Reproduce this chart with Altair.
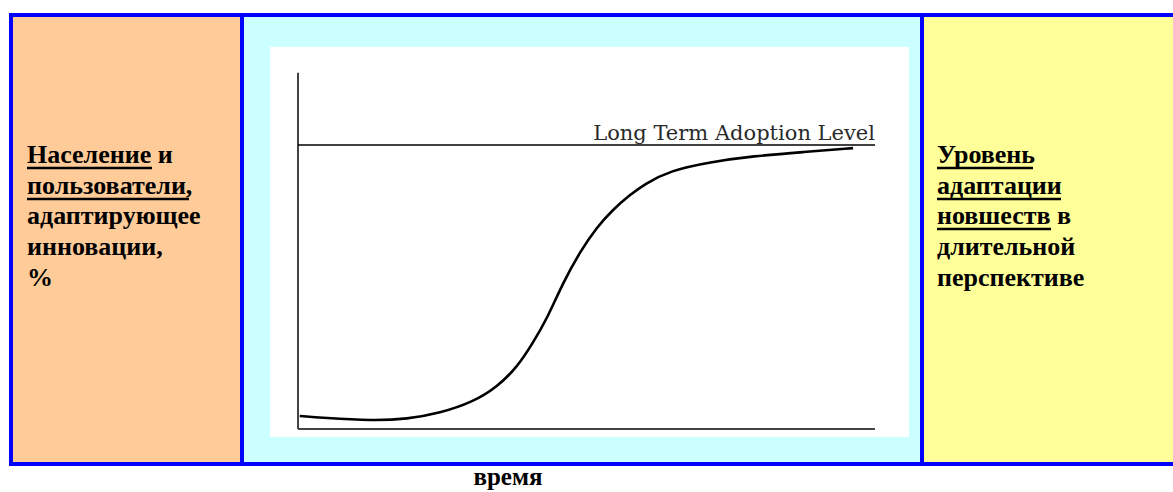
import altair as alt
import pandas as pd

# ---- data ----
time_pts = [0.3, 4.3, 13.0, 18.9, 24.6, 30.3, 34.5, 38.0, 40.7, 43.2, 45.9, 48.9,
            51.8, 54.6, 57.5, 60.1, 64.5, 71.4, 78.9, 87.5, 96.2]
adopt_pct = [4.6, 3.9, 2.9, 3.5, 5.6, 9.5, 14.8, 21.8, 30.3, 39.0, 51.4, 62.5,
             71.1, 77.3, 82.4, 86.3, 91.0, 94.0, 96.1, 97.5, 98.9]
long_term_level = 100
y_axis_top = 125.4
x_axis_end = 100
level_label = "Long Term Adoption Level"
left_lines = ["Население и", "пользователи,", "адаптирующее", "инновации,", "%"]
right_lines = ["Уровень", "адаптации", "новшеств в", "длительной", "перспективе"]
x_title = "время"

W, H = 1173, 492
BLUE = "#0000FF"

xs = alt.Scale(domain=[0, 100], range=[298, 875], nice=False, zero=False)
ys = alt.Scale(domain=[0, 100], range=[429, 145], nice=False, zero=False)

one = alt.Data(values=[{}])


def box(x1, x2, y1, y2, color):
    return alt.Chart(one).mark_rect(color=color).encode(
        x=alt.value(x1), x2=alt.value(x2), y=alt.value(y1), y2=alt.value(y2))


def uline(x1, x2, y):
    return alt.Chart(one).mark_rule(color="black", strokeWidth=2.5).encode(
        x=alt.value(x1), x2=alt.value(x2), y=alt.value(y))


bg = [
    box(9, W, 13, 466, BLUE),
    box(13, 240, 17, 462, "#FFCC99"),
    box(244, 920, 17, 462, "#CCFFFF"),
    box(924, W, 17, 462, "#FFFF99"),
    box(270, 909, 47, 437, "#FFFFFF"),
]

curve_df = pd.DataFrame({"t": time_pts, "p": adopt_pct})
curve = alt.Chart(curve_df).mark_line(color="black", strokeWidth=2.6, interpolate="basis").encode(
    x=alt.X("t:Q", scale=xs, axis=None),
    y=alt.Y("p:Q", scale=ys, axis=None),
)

axes_df = pd.DataFrame({"x": [0, 0], "x2": [0, x_axis_end], "y": [0, 0], "y2": [y_axis_top, 0]})
axes = alt.Chart(axes_df).mark_rule(color="#444444", strokeWidth=2).encode(
    x=alt.X("x:Q", scale=xs, axis=None), x2="x2:Q",
    y=alt.Y("y:Q", scale=ys, axis=None), y2="y2:Q",
)

lvl_df = pd.DataFrame({"x": [0], "x2": [x_axis_end], "y": [long_term_level], "label": [level_label]})
lvl = alt.Chart(lvl_df).mark_rule(color="black", strokeWidth=1.5).encode(
    x=alt.X("x:Q", scale=xs, axis=None), x2="x2:Q",
    y=alt.Y("y:Q", scale=ys, axis=None),
)
lvl_text = alt.Chart(lvl_df).mark_text(
    align="right", baseline="alphabetic", dy=-5, font="DejaVu Serif", fontSize=21, color="#2a2a2a"
).encode(
    x=alt.X("x2:Q", scale=xs, axis=None),
    y=alt.Y("y:Q", scale=ys, axis=None),
    text="label:N",
)

left_text = alt.Chart(one).mark_text(
    align="left", baseline="alphabetic", font="Liberation Serif", fontWeight="bold",
    fontSize=26, lineHeight=30.7, color="black", text=left_lines
).encode(x=alt.value(27), y=alt.value(163))

right_text = alt.Chart(one).mark_text(
    align="left", baseline="alphabetic", font="Liberation Serif", fontWeight="bold",
    fontSize=26, lineHeight=30.7, color="black", text=right_lines
).encode(x=alt.value(937), y=alt.value(163))

bottom_text = alt.Chart(one).mark_text(
    align="center", baseline="alphabetic", font="Liberation Serif", fontWeight="bold",
    fontSize=25, color="black", text=x_title
).encode(x=alt.value(508), y=alt.value(485))

unders = [
    uline(27, 152, 168),
    uline(27, 189, 199),
    uline(937, 1033, 168),
    uline(937, 1061, 199),
    uline(937, 1051, 229),
]

chart = alt.layer(
    *bg, axes, lvl, curve, lvl_text, left_text, right_text, bottom_text, *unders
).properties(
    width=W, height=H, padding=0, autosize=alt.AutoSizeParams(type="none"),
    background="white",
).configure_view(stroke=None)

chart.save("out.html", embed_options={"renderer": "svg", "actions": False})
